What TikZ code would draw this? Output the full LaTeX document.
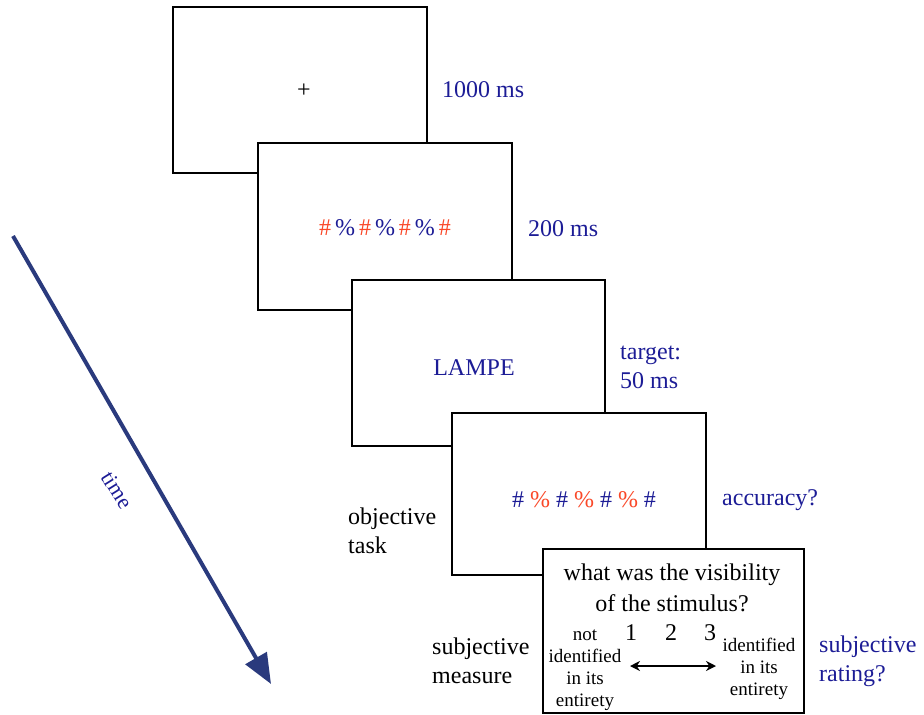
\documentclass[tikz,border=0pt]{standalone}
\usepackage{fontspec}
\setmainfont{Liberation Serif}
\usetikzlibrary{arrows.meta}
\definecolor{txtblue}{RGB}{28,28,150}
\definecolor{txtred}{RGB}{250,72,40}
\definecolor{arrblue}{RGB}{42,58,125}
\begin{document}
\begin{tikzpicture}[x=1pt,y=-1pt,
  screen/.style={draw=black,fill=white,line width=2.6pt,inner sep=0pt},
  lbl/.style={inner sep=0pt,font=\fontsize{24}{29}\selectfont},
  small/.style={inner sep=0pt,align=center,font=\fontsize{19}{22}\selectfont}]
\useasboundingbox (0,0) rectangle (924,715);
% screens
\node[screen,minimum width=254pt,minimum height=166pt] (s1) at (300,90) {};
\node[screen,minimum width=254pt,minimum height=167pt] (s2) at (385,226.5) {};
\node[screen,minimum width=253pt,minimum height=166pt] (s3) at (478.5,363) {};
\node[screen,minimum width=254pt,minimum height=162pt] (s4) at (579,494) {};
\node[screen,minimum width=261pt,minimum height=164pt] (s5) at (673.5,631) {};
% screen contents
\node[lbl] (plus) at (304,91) {+};
\node[lbl] (mask1) at (385,228) {\textcolor{txtred}{\#}\,\textcolor{txtblue}{\%}\,\textcolor{txtred}{\#}\,\textcolor{txtblue}{\%}\,\textcolor{txtred}{\#}\,\textcolor{txtblue}{\%}\,\textcolor{txtred}{\#}};
\node[lbl,text=txtblue] (word) at (474,368) {LAMPE};
\node[lbl] (mask2) at (584,500) {\textcolor{txtblue}{\#} \textcolor{txtred}{\%} \textcolor{txtblue}{\#} \textcolor{txtred}{\%} \textcolor{txtblue}{\#} \textcolor{txtred}{\%} \textcolor{txtblue}{\#}};
\node[lbl] (q1) at (672,575) {what was the visibility};
\node[lbl] (q2) at (672,603) {of the stimulus?};
\node[lbl] (n1) at (631,633) {1};
\node[lbl] (n2) at (671,633) {2};
\node[lbl] (n3) at (710,633) {3};
\node[small] (lo) at (585,670) {not\\identified\\in its\\entirety};
\node[small] (hi) at (759,669) {identified\\in its\\entirety};
\coordinate (al) at (630,666);
\coordinate (ar) at (716,666);
\draw[line width=2pt,{Stealth[length=10pt,width=10pt]}-{Stealth[length=10pt,width=10pt]}] (al) -- (ar);
% side labels
\node[lbl,anchor=west,text=txtblue] (t1) at (442,90) {1000 ms};
\node[lbl,anchor=west,text=txtblue] (t2) at (528,229) {200 ms};
\node[lbl,anchor=west,text=txtblue,align=left] (t3) at (620,367) {target:\\50 ms};
\node[lbl,anchor=west,text=txtblue] (t4) at (722,500) {accuracy?};
\node[lbl,anchor=west,align=left] (obj) at (348,531) {objective\\task};
\node[lbl,anchor=west,align=left] (subj) at (432,661) {subjective\\measure};
\node[lbl,anchor=west,align=left,text=txtblue] (rate) at (819,661) {subjective\\rating?};
% time arrow
\coordinate (ts) at (13,236);
\coordinate (te) at (271,684);
\draw[arrblue,line width=4pt,-{Triangle[length=30pt,width=24pt]}] (ts) -- (te);
\node[inner sep=0pt,text=txtblue,rotate=-58,font=\fontsize{22}{26}\selectfont] (time) at (117,490) {time};
\end{tikzpicture}
\end{document}
